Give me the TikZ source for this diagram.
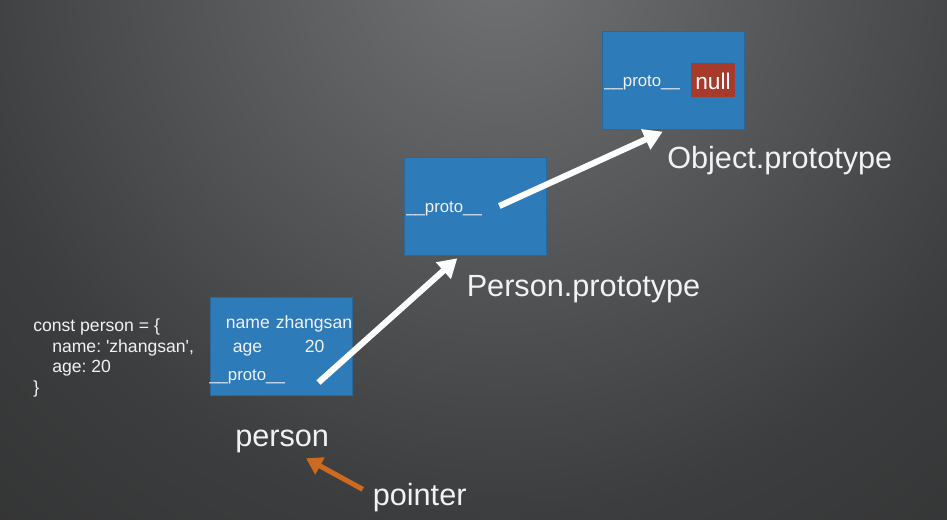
\documentclass[tikz,border=0pt]{standalone}
\usepackage{fontspec}
\setmainfont{Liberation Sans}
\usetikzlibrary{arrows.meta}
\definecolor{bgin}{HTML}{707273}
\definecolor{bgmid}{HTML}{3C3D3E}
\definecolor{bgout}{HTML}{262626}
\definecolor{boxblue}{HTML}{2E7BBA}
\definecolor{nullred}{HTML}{A83A2B}
\definecolor{ptrorange}{HTML}{CC6A1F}
\definecolor{txt}{HTML}{F2F2F2}
\pgfdeclareradialshading{bgshade}{\pgfpoint{0bp}{0bp}}{color(0bp)=(bgin); color(17bp)=(bgmid); color(34bp)=(bgout); color(50bp)=(bgout)}
\frenchspacing
\tikzset{
  objbox/.style={fill=boxblue, draw=boxblue!85!black, line width=0.4pt},
  codetxt/.style={text=txt, font=\fontsize{13.2pt}{15pt}\selectfont, inner sep=0pt, anchor=base west},
  fieldtxt/.style={text=txt, font=\fontsize{13.2pt}{15pt}\selectfont, inner sep=0pt, anchor=base west},
  bigtxt/.style={text=txt, font=\fontsize{23pt}{26pt}\selectfont, inner sep=0pt, anchor=base west},
  linkarrow/.style={draw=white, line width=4.6pt, -{Triangle[length=14pt,width=16pt]}},
  ptrarrow/.style={draw=ptrorange, line width=3.8pt, -{Triangle[length=12pt,width=14pt]}}
}
\begin{document}
\begin{tikzpicture}[x=0.75pt,y=-0.75pt]
\useasboundingbox (0,0) rectangle (947,520);
\begin{scope}
\clip (0,0) rectangle (947,520);
\fill[bgout] (0,0) rectangle (947,520);
\shade[shading=bgshade] (500,-40) circle (820);
\end{scope}

% boxes
\path[objbox] (210,297) rectangle (352,395);
\node[inner sep=0pt] (pbox) at (281,346) {};
\path[objbox] (404,157) rectangle (546,255);
\node[inner sep=0pt] (ppbox) at (475,206) {};
\path[objbox] (602,31) rectangle (744,129);
\node[inner sep=0pt] (opbox) at (673,80) {};
\node[fill=nullred, minimum width=44.6*0.75pt, minimum height=33.4*0.75pt, inner sep=0pt] (nullbox) at (713,80) {};
\node[text=white, font=\fontsize{17pt}{19pt}\selectfont, inner sep=0pt, anchor=base] (nulltxt) at (713,89.3) {null};

% code
\node[codetxt] (c1) at (33,331.5) {const person = \{};
\node[codetxt] (c2) at (52,352.5) {name: \textquotesingle zhangsan\textquotesingle,};
\node[codetxt] (c3) at (52,373) {age: 20};
\node[codetxt] (c4) at (33,393.5) {\}};

% person fields
\node[fieldtxt] (f1) at (225.5,328.5) {name};
\node[fieldtxt] (f2) at (275.5,328.5) {zhangsan};
\node[fieldtxt] (f3) at (232.5,353) {age};
\node[fieldtxt] (f4) at (304.5,353) {20};
\node[fieldtxt, font=\fontsize{12.6pt}{15pt}\selectfont] (f5) at (209,381) {\_\_proto\_\_};
\node[fieldtxt, font=\fontsize{12.6pt}{15pt}\selectfont] (pp1) at (406,212.5) {\_\_proto\_\_};
\node[fieldtxt, font=\fontsize{12.6pt}{15pt}\selectfont] (op1) at (604,86.5) {\_\_proto\_\_};

% labels
\node[bigtxt] (lop) at (667,168.5) {Object.prototype};
\node[bigtxt] (lpp) at (466.5,296.5) {Person.prototype};
\node[bigtxt] (lp) at (235,446.5) {person};
\node[bigtxt] (lptr) at (372.5,505) {pointer};

% connectors
\coordinate (s1) at (318.5,382.5);
\coordinate (t1) at (457.3,258.3);
\coordinate (s2) at (499.3,206);
\coordinate (t2) at (662.7,131.7);
\coordinate (s3) at (362.7,489.3);
\coordinate (t3) at (306,458.3);
\draw[linkarrow] (s1) -- (t1);
\draw[linkarrow] (s2) -- (t2);
\draw[ptrarrow] (s3) -- (t3);
\end{tikzpicture}
\end{document}
